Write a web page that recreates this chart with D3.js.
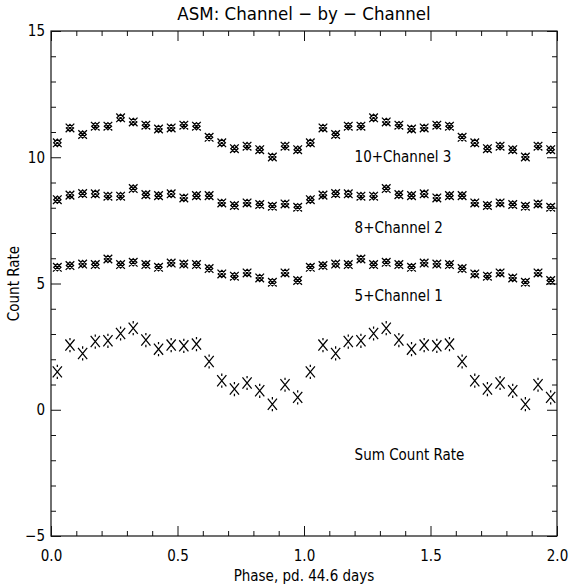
<!DOCTYPE html>
<html>
<head>
<meta charset="utf-8">
<script src="https://cdn.jsdelivr.net/npm/d3@7"></script>
<style>
  html, body { margin: 0; padding: 0; background: #fff; }
  svg text { font-family: "Liberation Sans Narrow", "DejaVu Sans Condensed", "Liberation Sans", sans-serif; fill: #000; }
</style>
</head>
<body>
<svg id="chart" width="569" height="587"></svg>
<script>
// ---- Data (one 44.6-day cycle, 20 phase bins; plotted twice: phase 0-2) ----
const phaseBins = [0.025,0.075,0.125,0.175,0.225,0.275,0.325,0.375,0.425,0.475,
                   0.525,0.575,0.625,0.675,0.725,0.775,0.825,0.875,0.925,0.975];
const channel3Plus10 = [10.57,11.16,10.90,11.23,11.23,11.56,11.40,11.27,11.12,11.16,
                        11.27,11.23,10.79,10.57,10.34,10.44,10.30,10.01,10.44,10.30];
const channel2Plus8  = [8.32,8.50,8.56,8.55,8.46,8.46,8.76,8.52,8.48,8.55,
                        8.39,8.48,8.48,8.19,8.09,8.19,8.13,8.06,8.15,8.02];
const channel1Plus5  = [5.64,5.71,5.77,5.75,5.97,5.75,5.84,5.75,5.64,5.81,
                        5.77,5.75,5.59,5.38,5.29,5.42,5.22,5.05,5.42,5.12];
const sumCountRate   = [1.50,2.56,2.23,2.70,2.73,3.02,3.23,2.76,2.40,2.56,
                        2.53,2.60,1.91,1.15,0.82,1.06,0.75,0.22,0.99,0.49];
const xTickValues = [0.0, 0.5, 1.0, 1.5, 2.0];
const xTickLabels = ["0.0", "0.5", "1.0", "1.5", "2.0"];
const yTickValues = [-5, 0, 5, 10, 15];
const yTickLabels = ["\u22125", "0", "5", "10", "15"];
const seriesLabels = ["10+Channel 3", "8+Channel 2", "5+Channel 1", "Sum Count Rate"];
const seriesLabelAt = [[1.2, 9.8], [1.2, 7.0], [1.2, 4.3], [1.2, -2.0]];
const titleText = "ASM: Channel \u2212 by \u2212 Channel";
const xTitle = "Phase, pd. 44.6 days";
const yTitle = "Count Rate";

// ---- Layout ----
const L = 51, R = 557, T = 31, B = 536;
const svg = d3.select("#chart");
const x = d3.scaleLinear().domain([0, 2]).range([L, R]);
const y = d3.scaleLinear().domain([-5, 15]).range([B, T]);

// two cycles
function twoCycles(vals) {
  const out = [];
  for (let c = 0; c < 2; c++) vals.forEach((v, i) => out.push([phaseBins[i] + c, v]));
  return out;
}

const stroke = "#111";
// frame
svg.append("rect").attr("x", L).attr("y", T).attr("width", R - L).attr("height", B - T)
  .attr("fill", "none").attr("stroke", stroke).attr("stroke-width", 1.2);

// axes (ticks inward, mirrored on all sides)
const fmtX = (d) => xTickLabels[xTickValues.indexOf(d)];
const fmtY = (d) => yTickLabels[yTickValues.indexOf(d)];
const minorX = d3.range(0, 2.0001, 0.1).map(v => +v.toFixed(2)).filter(v => !xTickValues.some(t => Math.abs(t - v) < 1e-6));
const minorY = d3.range(-5, 15.0001, 1).filter(v => !yTickValues.includes(v));

function drawAxis(axis, transform, showLabels) {
  const g = svg.append("g").attr("transform", transform).call(axis);
  g.select(".domain").remove();
  g.selectAll("line").attr("stroke", stroke).attr("stroke-width", 1);
  if (!showLabels) g.selectAll("text").remove();
  return g;
}
// bottom major
let gb = drawAxis(d3.axisBottom(x).tickValues(xTickValues).tickSize(-10).tickPadding(14).tickFormat(fmtX), `translate(0,${B})`, true);
gb.selectAll("text").attr("font-size", 15).attr("dy", "0.71em");
drawAxis(d3.axisBottom(x).tickValues(minorX).tickSize(-5).tickFormat(""), `translate(0,${B})`, false);
// top
drawAxis(d3.axisTop(x).tickValues(xTickValues).tickSize(-10).tickFormat(""), `translate(0,${T})`, false);
drawAxis(d3.axisTop(x).tickValues(minorX).tickSize(-5).tickFormat(""), `translate(0,${T})`, false);
// left
let gl = drawAxis(d3.axisLeft(y).tickValues(yTickValues).tickSize(-10).tickPadding(6).tickFormat(fmtY), `translate(${L},0)`, true);
gl.selectAll("text").attr("font-size", 15);
drawAxis(d3.axisLeft(y).tickValues(minorY).tickSize(-5).tickFormat(""), `translate(${L},0)`, false);
// right
drawAxis(d3.axisRight(y).tickValues(yTickValues).tickSize(-10).tickFormat(""), `translate(${R},0)`, false);
drawAxis(d3.axisRight(y).tickValues(minorY).tickSize(-5).tickFormat(""), `translate(${R},0)`, false);

// markers
function channelMarker(g) {
  const s = 4.3, d = 3.6;
  g.append("path")
    .attr("d", `M${-s},${-s}L${s},${s}M${-s},${s}L${s},${-s}` +
               `M0,${-d}L${d},0L0,${d}L${-d},0Z`)
    .attr("fill", "none").attr("stroke", "#000").attr("stroke-width", 1.3);
}
function sumMarker(g) {
  const w = 4.6, h = 5.6;
  g.append("path")
    .attr("d", `M${-w},${-h}L${w},${h}M${-w},${h}L${w},${-h}M0,${-h - 1.5}L0,${-h + 0.8}M0,${h - 0.8}L0,${h + 1.5}`)
    .attr("fill", "none").attr("stroke", "#000").attr("stroke-width", 1.25);
}
[channel3Plus10, channel2Plus8, channel1Plus5].forEach(vals => {
  svg.append("g").selectAll("g").data(twoCycles(vals)).join("g")
    .attr("transform", d => `translate(${x(d[0])},${y(d[1])})`)
    .each(function () { channelMarker(d3.select(this)); });
});
svg.append("g").selectAll("g").data(twoCycles(sumCountRate)).join("g")
  .attr("transform", d => `translate(${x(d[0])},${y(d[1])})`)
  .each(function () { sumMarker(d3.select(this)); });

// series labels
svg.append("g").selectAll("text").data(seriesLabels).join("text")
  .attr("x", (d, i) => x(seriesLabelAt[i][0]))
  .attr("y", (d, i) => y(seriesLabelAt[i][1]))
  .attr("font-size", 15)
  .text(d => d);

// titles
svg.append("text").attr("x", (L + R) / 2).attr("y", 20).attr("text-anchor", "middle")
  .attr("font-size", 18.5).text(titleText);
svg.append("text").attr("x", (L + R) / 2).attr("y", 581).attr("text-anchor", "middle")
  .attr("font-size", 15).text(xTitle);
svg.append("text").attr("transform", `translate(19,${(T + B) / 2}) rotate(-90)`)
  .attr("text-anchor", "middle").attr("font-size", 15).text(yTitle);
</script>
</body>
</html>
